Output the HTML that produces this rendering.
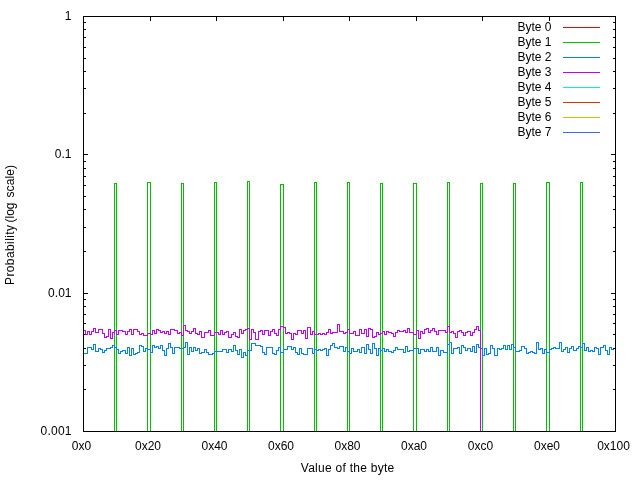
<!DOCTYPE html>
<html><head><meta charset="utf-8"><title>Byte distribution</title>
<style>html,body{margin:0;padding:0;background:#fff;width:640px;height:480px;overflow:hidden}svg{display:block;font-family:"Liberation Sans",sans-serif}</style>
</head><body>
<svg width="640" height="480" viewBox="0 0 640 480" style="will-change:transform">
<rect width="640" height="480" fill="#fff"/>
<path fill="none" stroke="#000" stroke-width="1" shape-rendering="crispEdges" d="M83 16.5H88M611 16.5H615M83 154.5H88M611 154.5H615M83 293.5H88M611 293.5H615M83 431.5H88M611 431.5H615M83 389.5H86M613 389.5H615M83 365.5H86M613 365.5H615M83 348.5H86M613 348.5H615M83 334.5H86M613 334.5H615M83 323.5H86M613 323.5H615M83 314.5H86M613 314.5H615M83 306.5H86M613 306.5H615M83 299.5H86M613 299.5H615M83 251.5H86M613 251.5H615M83 227.5H86M613 227.5H615M83 209.5H86M613 209.5H615M83 196.5H86M613 196.5H615M83 185.5H86M613 185.5H615M83 176.5H86M613 176.5H615M83 168.5H86M613 168.5H615M83 161.5H86M613 161.5H615M83 113.5H86M613 113.5H615M83 88.5H86M613 88.5H615M83 71.5H86M613 71.5H615M83 58.5H86M613 58.5H615M83 47.5H86M613 47.5H615M83 37.5H86M613 37.5H615M83 29.5H86M613 29.5H615M83 22.5H86M613 22.5H615M83.5 431V426M83.5 16V21M150.5 431V426M150.5 16V21M216.5 431V426M216.5 16V21M283.5 431V426M283.5 16V21M349.5 431V426M349.5 16V21M416.5 431V426M416.5 16V21M482.5 431V426M482.5 16V21M549.5 431V426M549.5 16V21M615.5 431V426M615.5 16V21"/>
<path fill="none" stroke="#00c000" shape-rendering="crispEdges" d="M114.5 431V183.5H116.5V431M147.5 431V182.5H150.5V431M181.5 431V183.5H183.5V431M214.5 431V182.5H216.5V431M247.5 431V181.5H249.5V431M280.5 431V184.5H283.5V431M314.5 431V182.5H316.5V431M347.5 431V182.5H349.5V431M380.5 431V183.5H382.5V431M413.5 431V183.5H416.5V431M447.5 431V182.5H449.5V431M480.5 431V183.5H482.5V431M513.5 431V183.5H515.5V431M546.5 431V182.5H549.5V431M580.5 431V182.5H582.5V431"/>
<path fill="none" stroke="#0080ff" shape-rendering="crispEdges" d="M83.5 353.5 H85.5 V353.5 H87.5 V347.5 H89.5 V347.5 H91.5 V349.5 H93.5 V344.5 H95.5 V351.5 H98.5 V348.5 H100.5 V349.5 H102.5 V352.5 H104.5 V350.5 H106.5 V348.5 H108.5 V348.5 H110.5 V347.5 H112.5 V345.5 H114.5 V347.5 H116.5 V349.5 H118.5 V353.5 H120.5 V351.5 H122.5 V350.5 H125.5 V353.5 H127.5 V347.5 H129.5 V355.5 H131.5 V348.5 H133.5 V354.5 H135.5 V353.5 H137.5 V352.5 H139.5 V345.5 H141.5 V346.5 H143.5 V351.5 H145.5 V348.5 H147.5 V349.5 H150.5 V352.5 H152.5 V345.5 H154.5 V347.5 H156.5 V346.5 H158.5 V348.5 H160.5 V345.5 H162.5 V350.5 H164.5 V355.5 H166.5 V348.5 H168.5 V343.5 H170.5 V347.5 H172.5 V353.5 H174.5 V347.5 H177.5 V347.5 H179.5 V348.5 H181.5 V348.5 H183.5 V347.5 H185.5 V342.5 H187.5 V354.5 H189.5 V347.5 H191.5 V351.5 H193.5 V347.5 H195.5 V350.5 H197.5 V348.5 H199.5 V353.5 H201.5 V352.5 H204.5 V349.5 H206.5 V352.5 H208.5 V354.5 H210.5 V354.5 H212.5 V353.5 H214.5 V351.5 H216.5 V351.5 H218.5 V351.5 H220.5 V351.5 H222.5 V349.5 H224.5 V349.5 H226.5 V352.5 H228.5 V349.5 H231.5 V351.5 H233.5 V345.5 H235.5 V350.5 H237.5 V354.5 H239.5 V349.5 H241.5 V357.5 H243.5 V352.5 H245.5 V355.5 H247.5 V350.5 H249.5 V350.5 H251.5 V343.5 H253.5 V343.5 H255.5 V345.5 H258.5 V345.5 H260.5 V346.5 H262.5 V352.5 H264.5 V354.5 H266.5 V347.5 H268.5 V347.5 H270.5 V347.5 H272.5 V353.5 H274.5 V354.5 H276.5 V350.5 H278.5 V347.5 H280.5 V352.5 H283.5 V349.5 H285.5 V349.5 H287.5 V346.5 H289.5 V346.5 H291.5 V349.5 H293.5 V347.5 H295.5 V352.5 H297.5 V354.5 H299.5 V348.5 H301.5 V353.5 H303.5 V354.5 H305.5 V354.5 H307.5 V348.5 H310.5 V348.5 H312.5 V353.5 H314.5 V349.5 H316.5 V350.5 H318.5 V349.5 H320.5 V350.5 H322.5 V349.5 H324.5 V348.5 H326.5 V355.5 H328.5 V349.5 H330.5 V345.5 H332.5 V343.5 H334.5 V347.5 H337.5 V348.5 H339.5 V346.5 H341.5 V346.5 H343.5 V351.5 H345.5 V347.5 H347.5 V351.5 H349.5 V353.5 H351.5 V348.5 H353.5 V351.5 H355.5 V351.5 H357.5 V349.5 H359.5 V352.5 H361.5 V347.5 H364.5 V353.5 H366.5 V344.5 H368.5 V349.5 H370.5 V353.5 H372.5 V343.5 H374.5 V348.5 H376.5 V355.5 H378.5 V348.5 H380.5 V350.5 H382.5 V348.5 H384.5 V351.5 H386.5 V349.5 H388.5 V351.5 H391.5 V352.5 H393.5 V350.5 H395.5 V347.5 H397.5 V349.5 H399.5 V349.5 H401.5 V349.5 H403.5 V352.5 H405.5 V346.5 H407.5 V351.5 H409.5 V350.5 H411.5 V350.5 H413.5 V348.5 H416.5 V348.5 H418.5 V353.5 H420.5 V349.5 H422.5 V349.5 H424.5 V351.5 H426.5 V349.5 H428.5 V351.5 H430.5 V347.5 H432.5 V351.5 H434.5 V351.5 H436.5 V347.5 H438.5 V355.5 H440.5 V350.5 H443.5 V352.5 H445.5 V352.5 H447.5 V344.5 H449.5 V342.5 H451.5 V353.5 H453.5 V348.5 H455.5 V348.5 H457.5 V347.5 H459.5 V353.5 H461.5 V345.5 H463.5 V347.5 H465.5 V350.5 H467.5 V348.5 H470.5 V351.5 H472.5 V346.5 H474.5 V352.5 H476.5 V344.5 H478.5 V347.5 H480.5 V348.5 H482.5 V355.5 H484.5 V348.5 H486.5 V354.5 H488.5 V353.5 H490.5 V345.5 H492.5 V348.5 H494.5 V355.5 H497.5 V348.5 H499.5 V349.5 H501.5 V348.5 H503.5 V345.5 H505.5 V349.5 H507.5 V345.5 H509.5 V349.5 H511.5 V344.5 H513.5 V347.5 H515.5 V351.5 H517.5 V351.5 H519.5 V350.5 H521.5 V346.5 H524.5 V348.5 H526.5 V353.5 H528.5 V352.5 H530.5 V351.5 H532.5 V352.5 H534.5 V353.5 H536.5 V342.5 H538.5 V349.5 H540.5 V348.5 H542.5 V353.5 H544.5 V349.5 H546.5 V352.5 H549.5 V349.5 H551.5 V348.5 H553.5 V347.5 H555.5 V348.5 H557.5 V348.5 H559.5 V342.5 H561.5 V351.5 H563.5 V349.5 H565.5 V347.5 H567.5 V352.5 H569.5 V348.5 H571.5 V346.5 H573.5 V350.5 H576.5 V348.5 H578.5 V346.5 H580.5 V347.5 H582.5 V343.5 H584.5 V350.5 H586.5 V347.5 H588.5 V351.5 H590.5 V350.5 H592.5 V351.5 H594.5 V347.5 H596.5 V348.5 H598.5 V354.5 H600.5 V347.5 H603.5 V345.5 H605.5 V350.5 H607.5 V354.5 H609.5 V347.5 H611.5 V349.5 H613.5"/>
<path fill="none" stroke="#c000ff" shape-rendering="crispEdges" d="M83.5 330.5 H85.5 V334.5 H87.5 V331.5 H89.5 V334.5 H91.5 V331.5 H93.5 V328.5 H95.5 V332.5 H98.5 V329.5 H100.5 V329.5 H102.5 V333.5 H104.5 V337.5 H106.5 V336.5 H108.5 V329.5 H110.5 V338.5 H112.5 V332.5 H114.5 V330.5 H116.5 V334.5 H118.5 V330.5 H120.5 V330.5 H122.5 V331.5 H125.5 V334.5 H127.5 V331.5 H129.5 V329.5 H131.5 V334.5 H133.5 V329.5 H135.5 V329.5 H137.5 V331.5 H139.5 V334.5 H141.5 V333.5 H143.5 V335.5 H145.5 V335.5 H147.5 V333.5 H150.5 V334.5 H152.5 V330.5 H154.5 V333.5 H156.5 V329.5 H158.5 V330.5 H160.5 V332.5 H162.5 V331.5 H164.5 V333.5 H166.5 V331.5 H168.5 V334.5 H170.5 V329.5 H172.5 V329.5 H174.5 V330.5 H177.5 V333.5 H179.5 V332.5 H181.5 V335.5 H183.5 V325.5 H185.5 V330.5 H187.5 V331.5 H189.5 V333.5 H191.5 V331.5 H193.5 V328.5 H195.5 V333.5 H197.5 V334.5 H199.5 V331.5 H201.5 V337.5 H204.5 V332.5 H206.5 V332.5 H208.5 V330.5 H210.5 V335.5 H212.5 V335.5 H214.5 V332.5 H216.5 V332.5 H218.5 V334.5 H220.5 V330.5 H222.5 V334.5 H224.5 V332.5 H226.5 V331.5 H228.5 V337.5 H231.5 V334.5 H233.5 V332.5 H235.5 V336.5 H237.5 V337.5 H239.5 V329.5 H241.5 V333.5 H243.5 V330.5 H245.5 V329.5 H247.5 V328.5 H249.5 V339.5 H251.5 V329.5 H253.5 V332.5 H255.5 V339.5 H258.5 V331.5 H260.5 V330.5 H262.5 V334.5 H264.5 V330.5 H266.5 V330.5 H268.5 V335.5 H270.5 V331.5 H272.5 V329.5 H274.5 V333.5 H276.5 V335.5 H278.5 V329.5 H280.5 V326.5 H283.5 V327.5 H285.5 V333.5 H287.5 V332.5 H289.5 V333.5 H291.5 V339.5 H293.5 V333.5 H295.5 V334.5 H297.5 V330.5 H299.5 V330.5 H301.5 V333.5 H303.5 V330.5 H305.5 V338.5 H307.5 V327.5 H310.5 V334.5 H312.5 V331.5 H314.5 V334.5 H316.5 V334.5 H318.5 V333.5 H320.5 V334.5 H322.5 V333.5 H324.5 V334.5 H326.5 V332.5 H328.5 V329.5 H330.5 V333.5 H332.5 V332.5 H334.5 V332.5 H337.5 V324.5 H339.5 V331.5 H341.5 V331.5 H343.5 V333.5 H345.5 V332.5 H347.5 V329.5 H349.5 V333.5 H351.5 V333.5 H353.5 V331.5 H355.5 V335.5 H357.5 V335.5 H359.5 V329.5 H361.5 V333.5 H364.5 V329.5 H366.5 V336.5 H368.5 V328.5 H370.5 V329.5 H372.5 V337.5 H374.5 V336.5 H376.5 V332.5 H378.5 V334.5 H380.5 V333.5 H382.5 V331.5 H384.5 V334.5 H386.5 V331.5 H388.5 V332.5 H391.5 V333.5 H393.5 V336.5 H395.5 V332.5 H397.5 V330.5 H399.5 V331.5 H401.5 V331.5 H403.5 V330.5 H405.5 V332.5 H407.5 V328.5 H409.5 V332.5 H411.5 V332.5 H413.5 V334.5 H416.5 V330.5 H418.5 V338.5 H420.5 V331.5 H422.5 V333.5 H424.5 V329.5 H426.5 V328.5 H428.5 V332.5 H430.5 V330.5 H432.5 V328.5 H434.5 V331.5 H436.5 V334.5 H438.5 V330.5 H440.5 V330.5 H443.5 V330.5 H445.5 V332.5 H447.5 V326.5 H449.5 V332.5 H451.5 V331.5 H453.5 V333.5 H455.5 V337.5 H457.5 V331.5 H459.5 V330.5 H461.5 V332.5 H463.5 V335.5 H465.5 V332.5 H467.5 V331.5 H470.5 V335.5 H472.5 V332.5 H474.5 V329.5 H476.5 V326.5 H478.5 V330.5 H480.5V431"/>
<rect x="83.5" y="16.5" width="532" height="415" fill="none" stroke="#000" shape-rendering="crispEdges"/>
<path d="M563 27.5H600" stroke="#ff0000" shape-rendering="crispEdges"/>
<path d="M563 42.5H600" stroke="#00c000" shape-rendering="crispEdges"/>
<path d="M563 57.5H600" stroke="#0080ff" shape-rendering="crispEdges"/>
<path d="M563 72.5H600" stroke="#c000ff" shape-rendering="crispEdges"/>
<path d="M563 87.5H600" stroke="#00eeee" shape-rendering="crispEdges"/>
<path d="M563 102.5H600" stroke="#c04000" shape-rendering="crispEdges"/>
<path d="M563 117.5H600" stroke="#c8c800" shape-rendering="crispEdges"/>
<path d="M563 132.5H600" stroke="#4169e1" shape-rendering="crispEdges"/>
<g font-family="Liberation Sans, sans-serif" font-size="12" fill="#000"><text x="71.5" y="19.5" text-anchor="end">1</text><text x="71.5" y="157.5" text-anchor="end">0.1</text><text x="71.5" y="296.5" text-anchor="end" textLength="23.4" lengthAdjust="spacing">0.01</text><text x="71.5" y="434.5" text-anchor="end" textLength="31.0" lengthAdjust="spacing">0.001</text><text x="81.5" y="450" text-anchor="middle">0x0</text><text x="148.0" y="450" text-anchor="middle">0x20</text><text x="214.5" y="450" text-anchor="middle">0x40</text><text x="281.0" y="450" text-anchor="middle">0x60</text><text x="347.5" y="450" text-anchor="middle">0x80</text><text x="414.0" y="450" text-anchor="middle">0xa0</text><text x="480.5" y="450" text-anchor="middle">0xc0</text><text x="547.0" y="450" text-anchor="middle">0xe0</text><text x="613.5" y="450" text-anchor="middle">0x100</text><text x="347.5" y="472" text-anchor="middle" textLength="93.5" lengthAdjust="spacing">Value of the byte</text><text x="551.5" y="31" text-anchor="end">Byte 0</text><text x="551.5" y="46" text-anchor="end">Byte 1</text><text x="551.5" y="61" text-anchor="end">Byte 2</text><text x="551.5" y="76" text-anchor="end">Byte 3</text><text x="551.5" y="91" text-anchor="end">Byte 4</text><text x="551.5" y="106" text-anchor="end">Byte 5</text><text x="551.5" y="121" text-anchor="end">Byte 6</text><text x="551.5" y="136" text-anchor="end">Byte 7</text><text transform="translate(14,285) rotate(-90)" textLength="60" lengthAdjust="spacing">Probability</text><text transform="translate(14,222.5) rotate(-90)" textLength="20" lengthAdjust="spacing">(log</text><text transform="translate(14,197.5) rotate(-90)" textLength="32.5" lengthAdjust="spacing">scale)</text></g>
</svg>
</body></html>
